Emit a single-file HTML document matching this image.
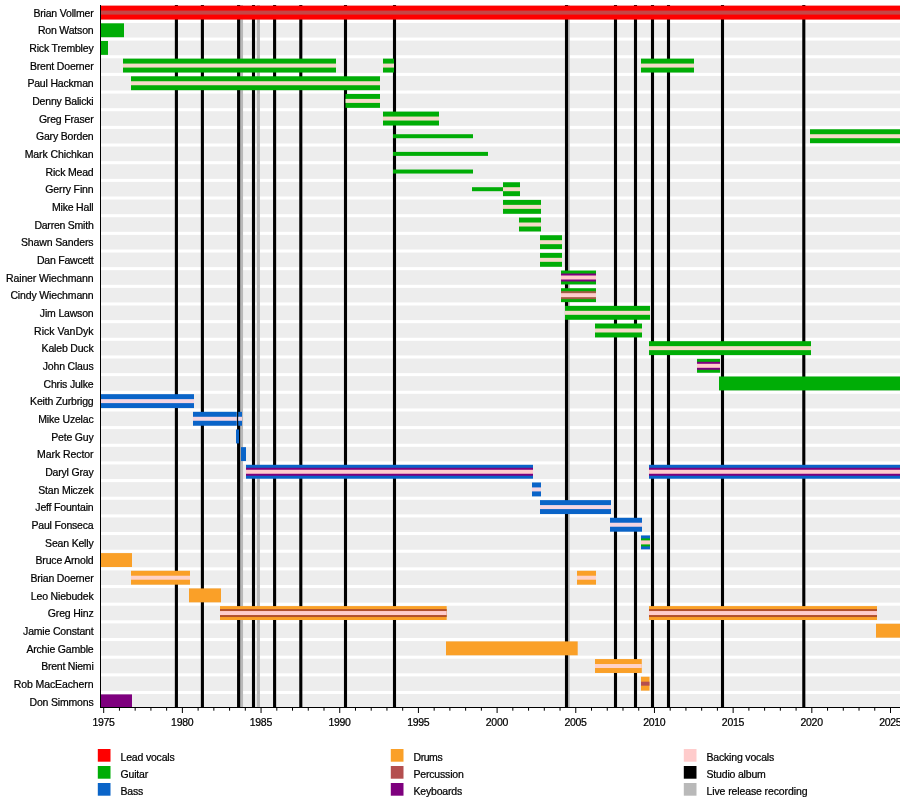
<!DOCTYPE html>
<html><head><meta charset="utf-8"><title>Helix timeline</title><style>html,body{margin:0;padding:0;background:#fff}svg{display:block}</style></head><body>
<svg width="900" height="807" viewBox="0 0 900 807" font-family="'Liberation Sans', sans-serif" font-size="10.5px" letter-spacing="-0.18" fill="#000"><style>text{stroke:#000;stroke-width:0.22px}</style>
<rect width="900" height="807" fill="#fff"/>
<g fill="#ededed">
<rect x="100" y="5.30" width="800" height="14.60"/>
<rect x="100" y="22.96" width="800" height="14.60"/>
<rect x="100" y="40.62" width="800" height="14.60"/>
<rect x="100" y="58.28" width="800" height="14.60"/>
<rect x="100" y="75.94" width="800" height="14.60"/>
<rect x="100" y="93.60" width="800" height="14.60"/>
<rect x="100" y="111.26" width="800" height="14.60"/>
<rect x="100" y="128.92" width="800" height="14.60"/>
<rect x="100" y="146.58" width="800" height="14.60"/>
<rect x="100" y="164.24" width="800" height="14.60"/>
<rect x="100" y="181.90" width="800" height="14.60"/>
<rect x="100" y="199.56" width="800" height="14.60"/>
<rect x="100" y="217.22" width="800" height="14.60"/>
<rect x="100" y="234.88" width="800" height="14.60"/>
<rect x="100" y="252.54" width="800" height="14.60"/>
<rect x="100" y="270.20" width="800" height="14.60"/>
<rect x="100" y="287.86" width="800" height="14.60"/>
<rect x="100" y="305.52" width="800" height="14.60"/>
<rect x="100" y="323.18" width="800" height="14.60"/>
<rect x="100" y="340.84" width="800" height="14.60"/>
<rect x="100" y="358.50" width="800" height="14.60"/>
<rect x="100" y="376.16" width="800" height="14.60"/>
<rect x="100" y="393.82" width="800" height="14.60"/>
<rect x="100" y="411.48" width="800" height="14.60"/>
<rect x="100" y="429.14" width="800" height="14.60"/>
<rect x="100" y="446.80" width="800" height="14.60"/>
<rect x="100" y="464.46" width="800" height="14.60"/>
<rect x="100" y="482.12" width="800" height="14.60"/>
<rect x="100" y="499.78" width="800" height="14.60"/>
<rect x="100" y="517.44" width="800" height="14.60"/>
<rect x="100" y="535.10" width="800" height="14.60"/>
<rect x="100" y="552.76" width="800" height="14.60"/>
<rect x="100" y="570.42" width="800" height="14.60"/>
<rect x="100" y="588.08" width="800" height="14.60"/>
<rect x="100" y="605.74" width="800" height="14.60"/>
<rect x="100" y="623.40" width="800" height="14.60"/>
<rect x="100" y="641.06" width="800" height="14.60"/>
<rect x="100" y="658.72" width="800" height="14.60"/>
<rect x="100" y="676.38" width="800" height="14.60"/>
<rect x="100" y="694.04" width="800" height="12.96"/>
</g>
<g stroke-width="3.1">
<line x1="241.5" y1="4.9" x2="241.5" y2="707.0" stroke="#b9b9b9"/>
<line x1="258.4" y1="4.9" x2="258.4" y2="707.0" stroke="#b9b9b9"/>
<line x1="568.2" y1="4.9" x2="568.2" y2="707.0" stroke="#b9b9b9"/>
<line x1="176.4" y1="4.9" x2="176.4" y2="707.0" stroke="#000"/>
<line x1="202.4" y1="4.9" x2="202.4" y2="707.0" stroke="#000"/>
<line x1="238.6" y1="4.9" x2="238.6" y2="707.0" stroke="#000"/>
<line x1="253.5" y1="4.9" x2="253.5" y2="707.0" stroke="#000"/>
<line x1="274.6" y1="4.9" x2="274.6" y2="707.0" stroke="#000"/>
<line x1="300.8" y1="4.9" x2="300.8" y2="707.0" stroke="#000"/>
<line x1="345.5" y1="4.9" x2="345.5" y2="707.0" stroke="#000"/>
<line x1="394.5" y1="4.9" x2="394.5" y2="707.0" stroke="#000"/>
<line x1="566.5" y1="4.9" x2="566.5" y2="707.0" stroke="#000"/>
<line x1="615.5" y1="4.9" x2="615.5" y2="707.0" stroke="#000"/>
<line x1="635.5" y1="4.9" x2="635.5" y2="707.0" stroke="#000"/>
<line x1="652.5" y1="4.9" x2="652.5" y2="707.0" stroke="#000"/>
<line x1="668.5" y1="4.9" x2="668.5" y2="707.0" stroke="#000"/>
<line x1="722.5" y1="4.9" x2="722.5" y2="707.0" stroke="#000"/>
<line x1="803.8" y1="4.9" x2="803.8" y2="707.0" stroke="#000"/>
</g>
<rect x="100.5" y="5.65" width="799.50" height="13.90" fill="#ff0000"/>
<rect x="100.5" y="10.60" width="799.50" height="4.00" fill="#c64646"/>
<rect x="100.5" y="23.31" width="23.50" height="13.90" fill="#00ad06"/>
<rect x="100.5" y="40.97" width="7.50" height="13.90" fill="#00ad06"/>
<rect x="123" y="58.63" width="213.00" height="13.90" fill="#00ad06"/>
<rect x="123" y="63.58" width="213.00" height="4.00" fill="#f4dac8"/>
<rect x="383" y="58.63" width="11.00" height="13.90" fill="#00ad06"/>
<rect x="383" y="63.58" width="11.00" height="4.00" fill="#f4dac8"/>
<rect x="641" y="58.63" width="53.00" height="13.90" fill="#00ad06"/>
<rect x="641" y="63.58" width="53.00" height="4.00" fill="#f4dac8"/>
<rect x="131" y="76.29" width="249.00" height="13.90" fill="#00ad06"/>
<rect x="131" y="81.24" width="249.00" height="4.00" fill="#f4dac8"/>
<rect x="345.5" y="93.95" width="34.50" height="13.90" fill="#00ad06"/>
<rect x="345.5" y="98.90" width="34.50" height="4.00" fill="#f4dac8"/>
<rect x="383" y="111.61" width="56.00" height="13.90" fill="#00ad06"/>
<rect x="383" y="116.56" width="56.00" height="4.00" fill="#f4dac8"/>
<rect x="393" y="134.22" width="80.00" height="4.00" fill="#00ad06"/>
<rect x="810" y="129.27" width="90.00" height="13.90" fill="#00ad06"/>
<rect x="810" y="134.22" width="90.00" height="4.00" fill="#f4dac8"/>
<rect x="393" y="151.88" width="95.00" height="4.00" fill="#00ad06"/>
<rect x="393" y="169.54" width="80.00" height="4.00" fill="#00ad06"/>
<rect x="472" y="187.20" width="31.00" height="4.00" fill="#00ad06"/>
<rect x="503" y="182.25" width="17.00" height="13.90" fill="#00ad06"/>
<rect x="503" y="187.20" width="17.00" height="4.00" fill="#f4dac8"/>
<rect x="503" y="199.91" width="38.00" height="13.90" fill="#00ad06"/>
<rect x="503" y="204.86" width="38.00" height="4.00" fill="#f4dac8"/>
<rect x="519" y="217.57" width="22.00" height="13.90" fill="#00ad06"/>
<rect x="519" y="222.52" width="22.00" height="4.00" fill="#f4dac8"/>
<rect x="540" y="235.23" width="22.00" height="13.90" fill="#00ad06"/>
<rect x="540" y="240.18" width="22.00" height="4.00" fill="#f4dac8"/>
<rect x="540" y="252.89" width="22.00" height="13.90" fill="#00ad06"/>
<rect x="540" y="257.84" width="22.00" height="4.00" fill="#f4dac8"/>
<rect x="561" y="270.55" width="35.00" height="13.90" fill="#00ad06"/>
<rect x="561" y="273.50" width="35.00" height="8.00" fill="#7e007e"/>
<rect x="561" y="275.50" width="35.00" height="4.00" fill="#ffcccc"/>
<rect x="561" y="288.21" width="35.00" height="13.90" fill="#00ad06"/>
<rect x="561" y="291.16" width="35.00" height="8.00" fill="#a05c44"/>
<rect x="561" y="293.16" width="35.00" height="4.00" fill="#ffcccc"/>
<rect x="565" y="305.87" width="85.00" height="13.90" fill="#00ad06"/>
<rect x="565" y="310.82" width="85.00" height="4.00" fill="#f4dac8"/>
<rect x="595" y="323.53" width="47.00" height="13.90" fill="#00ad06"/>
<rect x="595" y="328.48" width="47.00" height="4.00" fill="#f4dac8"/>
<rect x="649" y="341.19" width="162.00" height="13.90" fill="#00ad06"/>
<rect x="649" y="346.14" width="162.00" height="4.00" fill="#f4dac8"/>
<rect x="697" y="358.85" width="23.00" height="13.90" fill="#00ad06"/>
<rect x="697" y="361.80" width="23.00" height="8.00" fill="#7e007e"/>
<rect x="697" y="363.80" width="23.00" height="4.00" fill="#ffcccc"/>
<rect x="719" y="376.51" width="181.00" height="13.90" fill="#00ad06"/>
<rect x="100.5" y="394.17" width="93.50" height="13.90" fill="#0a64c8"/>
<rect x="100.5" y="399.12" width="93.50" height="4.00" fill="#f4d6e2"/>
<rect x="193" y="411.83" width="43.80" height="13.90" fill="#0a64c8"/>
<rect x="193" y="416.78" width="43.80" height="4.00" fill="#f4d6e2"/>
<rect x="238.2" y="411.83" width="3.80" height="13.90" fill="#0a64c8"/>
<rect x="238.2" y="416.78" width="3.80" height="4.00" fill="#f4d6e2"/>
<rect x="236" y="429.49" width="3.00" height="13.90" fill="#0a64c8"/>
<rect x="241" y="447.15" width="5.00" height="13.90" fill="#0a64c8"/>
<rect x="246" y="464.81" width="287.00" height="13.90" fill="#0a64c8"/>
<rect x="246" y="467.76" width="287.00" height="8.00" fill="#7e007e"/>
<rect x="246" y="469.76" width="287.00" height="4.00" fill="#ffcccc"/>
<rect x="649" y="464.81" width="251.00" height="13.90" fill="#0a64c8"/>
<rect x="649" y="467.76" width="251.00" height="8.00" fill="#7e007e"/>
<rect x="649" y="469.76" width="251.00" height="4.00" fill="#ffcccc"/>
<rect x="532" y="482.47" width="9.00" height="13.90" fill="#0a64c8"/>
<rect x="532" y="487.42" width="9.00" height="4.00" fill="#f4d6e2"/>
<rect x="540" y="500.13" width="71.00" height="13.90" fill="#0a64c8"/>
<rect x="540" y="505.08" width="71.00" height="4.00" fill="#f4d6e2"/>
<rect x="610" y="517.79" width="32.00" height="13.90" fill="#0a64c8"/>
<rect x="610" y="522.74" width="32.00" height="4.00" fill="#f4d6e2"/>
<rect x="641" y="535.45" width="9.00" height="13.90" fill="#0a64c8"/>
<rect x="641" y="538.40" width="9.00" height="8.00" fill="#00ad06"/>
<rect x="641" y="540.40" width="9.00" height="4.00" fill="#ffcccc"/>
<rect x="100.5" y="553.11" width="31.50" height="13.90" fill="#faa028"/>
<rect x="131" y="570.77" width="59.00" height="13.90" fill="#faa028"/>
<rect x="131" y="575.72" width="59.00" height="4.00" fill="#ffd2c8"/>
<rect x="577" y="570.77" width="19.00" height="13.90" fill="#faa028"/>
<rect x="577" y="575.72" width="19.00" height="4.00" fill="#ffd2c8"/>
<rect x="189" y="588.43" width="32.00" height="13.90" fill="#faa028"/>
<rect x="220" y="606.09" width="226.70" height="13.90" fill="#faa028"/>
<rect x="220" y="609.04" width="226.70" height="8.00" fill="#b2502c"/>
<rect x="220" y="611.04" width="226.70" height="4.00" fill="#ffcccc"/>
<rect x="649" y="606.09" width="228.00" height="13.90" fill="#faa028"/>
<rect x="649" y="609.04" width="228.00" height="8.00" fill="#b2502c"/>
<rect x="649" y="611.04" width="228.00" height="4.00" fill="#ffcccc"/>
<rect x="876" y="623.75" width="24.00" height="13.90" fill="#faa028"/>
<rect x="446" y="641.41" width="131.70" height="13.90" fill="#faa028"/>
<rect x="595" y="659.07" width="46.80" height="13.90" fill="#faa028"/>
<rect x="595" y="664.02" width="46.80" height="4.00" fill="#ffd2c8"/>
<rect x="641" y="676.73" width="8.50" height="13.90" fill="#faa028"/>
<rect x="641" y="681.68" width="8.50" height="4.00" fill="#b44f4f"/>
<rect x="100.5" y="694.39" width="31.50" height="13.11" fill="#7e007e"/>
<g stroke="#000" stroke-width="1">
<line x1="100.5" y1="5" x2="100.5" y2="707.5"/>
<line x1="100" y1="707.5" x2="900" y2="707.5"/>
<line x1="103.70" y1="707.5" x2="103.70" y2="713.0"/>
<line x1="119.44" y1="707.5" x2="119.44" y2="710.7"/>
<line x1="135.17" y1="707.5" x2="135.17" y2="710.7"/>
<line x1="150.91" y1="707.5" x2="150.91" y2="710.7"/>
<line x1="166.64" y1="707.5" x2="166.64" y2="710.7"/>
<line x1="182.38" y1="707.5" x2="182.38" y2="713.0"/>
<line x1="198.12" y1="707.5" x2="198.12" y2="710.7"/>
<line x1="213.85" y1="707.5" x2="213.85" y2="710.7"/>
<line x1="229.59" y1="707.5" x2="229.59" y2="710.7"/>
<line x1="245.32" y1="707.5" x2="245.32" y2="710.7"/>
<line x1="261.06" y1="707.5" x2="261.06" y2="713.0"/>
<line x1="276.80" y1="707.5" x2="276.80" y2="710.7"/>
<line x1="292.53" y1="707.5" x2="292.53" y2="710.7"/>
<line x1="308.27" y1="707.5" x2="308.27" y2="710.7"/>
<line x1="324.00" y1="707.5" x2="324.00" y2="710.7"/>
<line x1="339.74" y1="707.5" x2="339.74" y2="713.0"/>
<line x1="355.48" y1="707.5" x2="355.48" y2="710.7"/>
<line x1="371.21" y1="707.5" x2="371.21" y2="710.7"/>
<line x1="386.95" y1="707.5" x2="386.95" y2="710.7"/>
<line x1="402.68" y1="707.5" x2="402.68" y2="710.7"/>
<line x1="418.42" y1="707.5" x2="418.42" y2="713.0"/>
<line x1="434.16" y1="707.5" x2="434.16" y2="710.7"/>
<line x1="449.89" y1="707.5" x2="449.89" y2="710.7"/>
<line x1="465.63" y1="707.5" x2="465.63" y2="710.7"/>
<line x1="481.36" y1="707.5" x2="481.36" y2="710.7"/>
<line x1="497.10" y1="707.5" x2="497.10" y2="713.0"/>
<line x1="512.84" y1="707.5" x2="512.84" y2="710.7"/>
<line x1="528.57" y1="707.5" x2="528.57" y2="710.7"/>
<line x1="544.31" y1="707.5" x2="544.31" y2="710.7"/>
<line x1="560.04" y1="707.5" x2="560.04" y2="710.7"/>
<line x1="575.78" y1="707.5" x2="575.78" y2="713.0"/>
<line x1="591.52" y1="707.5" x2="591.52" y2="710.7"/>
<line x1="607.25" y1="707.5" x2="607.25" y2="710.7"/>
<line x1="622.99" y1="707.5" x2="622.99" y2="710.7"/>
<line x1="638.72" y1="707.5" x2="638.72" y2="710.7"/>
<line x1="654.46" y1="707.5" x2="654.46" y2="713.0"/>
<line x1="670.20" y1="707.5" x2="670.20" y2="710.7"/>
<line x1="685.93" y1="707.5" x2="685.93" y2="710.7"/>
<line x1="701.67" y1="707.5" x2="701.67" y2="710.7"/>
<line x1="717.40" y1="707.5" x2="717.40" y2="710.7"/>
<line x1="733.14" y1="707.5" x2="733.14" y2="713.0"/>
<line x1="748.88" y1="707.5" x2="748.88" y2="710.7"/>
<line x1="764.61" y1="707.5" x2="764.61" y2="710.7"/>
<line x1="780.35" y1="707.5" x2="780.35" y2="710.7"/>
<line x1="796.08" y1="707.5" x2="796.08" y2="710.7"/>
<line x1="811.82" y1="707.5" x2="811.82" y2="713.0"/>
<line x1="827.56" y1="707.5" x2="827.56" y2="710.7"/>
<line x1="843.29" y1="707.5" x2="843.29" y2="710.7"/>
<line x1="859.03" y1="707.5" x2="859.03" y2="710.7"/>
<line x1="874.76" y1="707.5" x2="874.76" y2="710.7"/>
<line x1="890.50" y1="707.5" x2="890.50" y2="713.0"/>
</g>
<g text-anchor="middle" letter-spacing="-0.3">
<text x="103.50" y="726">1975</text>
<text x="182.18" y="726">1980</text>
<text x="260.86" y="726">1985</text>
<text x="339.54" y="726">1990</text>
<text x="418.22" y="726">1995</text>
<text x="496.90" y="726">2000</text>
<text x="575.58" y="726">2005</text>
<text x="654.26" y="726">2010</text>
<text x="732.94" y="726">2015</text>
<text x="811.62" y="726">2020</text>
<text x="890.30" y="726">2025</text>
</g>
<g text-anchor="end">
<text x="93.5" y="16.60">Brian Vollmer</text>
<text x="93.5" y="34.26">Ron Watson</text>
<text x="93.5" y="51.92">Rick Trembley</text>
<text x="93.5" y="69.58">Brent Doerner</text>
<text x="93.5" y="87.24">Paul Hackman</text>
<text x="93.5" y="104.90">Denny Balicki</text>
<text x="93.5" y="122.56">Greg Fraser</text>
<text x="93.5" y="140.22">Gary Borden</text>
<text x="93.5" y="157.88" letter-spacing="-0.09">Mark Chichkan</text>
<text x="93.5" y="175.54">Rick Mead</text>
<text x="93.5" y="193.20" letter-spacing="-0.14">Gerry Finn</text>
<text x="93.5" y="210.86">Mike Hall</text>
<text x="93.5" y="228.52" letter-spacing="-0.23">Darren Smith</text>
<text x="93.5" y="246.18" letter-spacing="-0.12">Shawn Sanders</text>
<text x="93.5" y="263.84" letter-spacing="-0.22">Dan Fawcett</text>
<text x="93.5" y="282.30" letter-spacing="-0.11">Rainer Wiechmann</text>
<text x="93.5" y="299.16" letter-spacing="-0.14">Cindy Wiechmann</text>
<text x="93.5" y="316.82">Jim Lawson</text>
<text x="93.5" y="335.28" letter-spacing="0.01">Rick VanDyk</text>
<text x="93.5" y="352.14">Kaleb Duck</text>
<text x="93.5" y="369.80">John Claus</text>
<text x="93.5" y="388.26">Chris Julke</text>
<text x="93.5" y="405.12">Keith Zurbrigg</text>
<text x="93.5" y="422.78">Mike Uzelac</text>
<text x="93.5" y="441.24">Pete Guy</text>
<text x="93.5" y="458.10" letter-spacing="-0.07">Mark Rector</text>
<text x="93.5" y="475.76">Daryl Gray</text>
<text x="93.5" y="494.22">Stan Miczek</text>
<text x="93.5" y="511.08">Jeff Fountain</text>
<text x="93.5" y="528.74">Paul Fonseca</text>
<text x="93.5" y="547.20">Sean Kelly</text>
<text x="93.5" y="564.06">Bruce Arnold</text>
<text x="93.5" y="581.72">Brian Doerner</text>
<text x="93.5" y="600.18">Leo Niebudek</text>
<text x="93.5" y="617.04">Greg Hinz</text>
<text x="93.5" y="634.70">Jamie Constant</text>
<text x="93.5" y="653.16">Archie Gamble</text>
<text x="93.5" y="670.02" letter-spacing="-0.23">Brent Niemi</text>
<text x="93.5" y="687.68" letter-spacing="-0.10">Rob MacEachern</text>
<text x="93.5" y="706.14">Don Simmons</text>
</g>
<rect x="97.8" y="749" width="12.7" height="12.7" fill="#ff0000"/>
<text x="120.5" y="761">Lead vocals</text>
<rect x="97.8" y="766" width="12.7" height="12.7" fill="#00ad06"/>
<text x="120.5" y="778">Guitar</text>
<rect x="97.8" y="783" width="12.7" height="12.7" fill="#0a64c8"/>
<text x="120.5" y="795">Bass</text>
<rect x="390.8" y="749" width="12.7" height="12.7" fill="#faa028"/>
<text x="413.5" y="761" letter-spacing="-0.44">Drums</text>
<rect x="390.8" y="766" width="12.7" height="12.7" fill="#b44f4f"/>
<text x="413.5" y="778">Percussion</text>
<rect x="390.8" y="783" width="12.7" height="12.7" fill="#7e007e"/>
<text x="413.5" y="795">Keyboards</text>
<rect x="683.8" y="749" width="12.7" height="12.7" fill="#ffcccc"/>
<text x="706.5" y="761">Backing vocals</text>
<rect x="683.8" y="766" width="12.7" height="12.7" fill="#000"/>
<text x="706.5" y="778">Studio album</text>
<rect x="683.8" y="783" width="12.7" height="12.7" fill="#b9b9b9"/>
<text x="706.5" y="795" letter-spacing="-0.11">Live release recording</text>
</svg>
</body></html>
